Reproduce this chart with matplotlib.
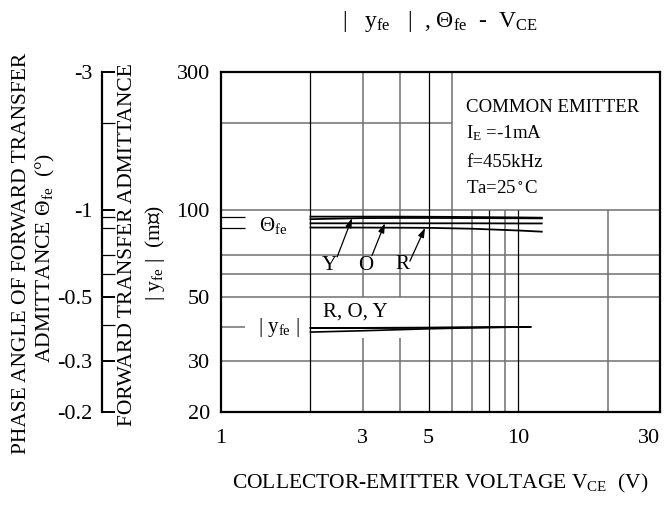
import numpy as np
import matplotlib
matplotlib.use("Agg")
import matplotlib.pyplot as plt
from matplotlib.ticker import FixedLocator, FixedFormatter, NullLocator

plt.rcParams['font.family'] = ['Liberation Serif', 'DejaVu Serif', 'DejaVu Sans']
plt.rcParams['mathtext.fontset'] = 'custom'
plt.rcParams['mathtext.rm'] = 'Liberation Serif'
plt.rcParams['mathtext.it'] = 'Liberation Serif:italic'

# --- values ---
vce_theta = [2, 3, 4, 5, 7, 10, 12]
theta_top = [-0.948, -0.948, -0.948, -0.947, -0.945, -0.942, -0.940]
theta_Y = [-0.929, -0.937, -0.938, -0.938, -0.937, -0.936, -0.935]
theta_O = [-0.899, -0.899, -0.899, -0.899, -0.899, -0.898, -0.898]
theta_R = [-0.869, -0.869, -0.868, -0.867, -0.861, -0.849, -0.841]

vce_yfe = [2, 3, 5, 7, 11]
yfe_R = [39.1, 39.1, 39.2, 39.3, 39.4]
yfe_O = [39.0, 39.0, 39.1, 39.2, 39.4]
yfe_Y = [37.8, 38.2, 38.8, 39.1, 39.4]

x_ticks = [1, 3, 5, 10, 30]
x_tick_labels = ['1', '3', '5', '10', '30']
y_ticks = [20, 30, 50, 100, 300]
y_tick_labels = ['20', '30', '50', '100', '300']
theta_ticks = [3, 1, 0.5, 0.3, 0.2]
theta_tick_labels = ['-3', '-1', '-0.5', '-0.3', '-0.2']

GRAY = '#707070'
FS = 15

fig = plt.figure(figsize=(6.68, 5.07), dpi=100)
ax = fig.add_axes([221 / 668, 95 / 507, 439 / 668, 340 / 507])
ax.set_xscale('log')
ax.set_yscale('log')
ax.set_xlim(1, 30)
ax.set_ylim(20, 300)

# grid (drawn by hand, the chart has broken / partial lines)
ax.hlines(200, 1, 6, color=GRAY, lw=1.1)
for v in [100, 70, 60, 50, 30]:
    ax.hlines(v, 1, 30, color=GRAY, lw=1.1)
ax.vlines(2, 20, 300, color='k', lw=0.9)
ax.vlines(5, 20, 300, color='k', lw=0.9)
ax.vlines(6, 20, 300, color=GRAY, lw=1.1)
for v in [3, 4]:
    ax.vlines(v, 20, 36, color=GRAY, lw=1.1)
    ax.vlines(v, 50, 300, color=GRAY, lw=1.1)
for v in [7, 9, 20]:
    ax.vlines(v, 20, 100, color=GRAY, lw=1.1)
for v in [8, 10]:
    ax.vlines(v, 20, 100, color='k', lw=0.9)

# |yfe| curves
for ys in [yfe_R, yfe_O, yfe_Y]:
    ax.plot(vce_yfe, ys, color='k', lw=1.2)
ax.hlines(39.5, 1, 1.205, color=GRAY, lw=1.1)

# phase angle curves on a matching log scale
ax_t = ax.twinx()
ax_t.set_yscale('log')
ax_t.set_ylim(0.2, 3)
ax_t.axis('off')
for th in [theta_top, theta_Y, theta_O, theta_R]:
    ax_t.plot(vce_theta, np.abs(th), color='k', lw=1.3)
band = [abs(theta_top[0]), abs(theta_R[0])]
ax_t.hlines(band, 1, 1.205, color='k', lw=0.9)

arrow = dict(arrowstyle='-|>,head_length=0.55,head_width=0.18', color='k',
             lw=0.9, shrinkA=0, shrinkB=0)
ax_t.annotate('', xy=(2.76, 0.937), xytext=(2.46, 68.8),
              textcoords=ax.transData, arrowprops=arrow)
ax_t.annotate('', xy=(3.56, 0.899), xytext=(3.22, 69.5),
              textcoords=ax.transData, arrowprops=arrow)
ax_t.annotate('', xy=(4.86, 0.867), xytext=(4.32, 66.5),
              textcoords=ax.transData, arrowprops=arrow)

ax.text(2.31, 64.0, 'Y', fontsize=FS, ha='center', va='center')
ax.text(3.07, 64.0, 'O', fontsize=FS, ha='center', va='center')
ax.text(4.06, 65.0, 'R', fontsize=FS, ha='center', va='center')
ax.text(2.84, 44.5, 'R, O, Y', fontsize=FS, ha='center', va='center')
ax.text(1.50, 88.5, r'$\mathregular{\Theta_{fe}}$', fontsize=FS, ha='center', va='center')
ax.text(1.57, 39.3, r'| $\mathregular{y_{fe}}$ |', fontsize=FS, ha='center', va='center')

# conditions box
cond = ['COMMON EMITTER', r'$\mathregular{I_E}$ =-1mA', 'f=455kHz', 'Ta=25$\mathregular{^\circ}$C']
for s, yy in zip(cond, [0.897, 0.821, 0.735, 0.656]):
    ax.text(0.558, yy, s, transform=ax.transAxes, fontsize=13.6, va='center', ha='left')

ax.xaxis.set_major_locator(FixedLocator(x_ticks))
ax.xaxis.set_major_formatter(FixedFormatter(x_tick_labels))
ax.xaxis.set_minor_locator(NullLocator())
ax.yaxis.set_major_locator(FixedLocator(y_ticks))
ax.yaxis.set_major_formatter(FixedFormatter(y_tick_labels))
ax.yaxis.set_minor_locator(NullLocator())
ax.tick_params(axis='both', length=0, labelsize=16)
ax.tick_params(axis='x', pad=12)
ax.tick_params(axis='y', pad=8)
for sp in ax.spines.values():
    sp.set_linewidth(1.6)
fig.canvas.draw()
ax.get_xticklabels()[-1].set_horizontalalignment('right')
ax.get_xticklabels()[-1].set_x(30)

# outer phase angle scale
ax_l = fig.add_axes([102 / 668, 95 / 507, 0.02, 340 / 507])
ax_l.set_yscale('log')
ax_l.set_ylim(0.2, 3)
ax_l.patch.set_visible(False)
for k in ['top', 'right', 'bottom']:
    ax_l.spines[k].set_visible(False)
ax_l.spines['left'].set_linewidth(1.6)
ax_l.set_xticks([])
ax_l.yaxis.set_major_locator(FixedLocator(theta_ticks))
ax_l.yaxis.set_major_formatter(FixedFormatter(theta_tick_labels))
ax_l.yaxis.set_minor_locator(FixedLocator([2] + band + [0.7, 0.6, 0.4]))
ax_l.yaxis.set_minor_formatter(FixedFormatter([]))
ax_l.tick_params(axis='y', which='both', direction='in', length=9.5, labelsize=16, pad=7)
ax_l.tick_params(axis='y', which='major', width=1.4)
ax_l.tick_params(axis='y', which='minor', width=0.9)

# titles and axis labels
LS = 15.5
fig.text(440 / 668, 1 - 22 / 507,
         r'|   $\mathregular{y_{fe}}$   |  , $\mathregular{\Theta_{fe}}$  -  $\mathregular{V_{CE}}$',
         fontsize=17, ha='center', va='center')
fig.text(440 / 668, 1 - 483 / 507,
         r'COLLECTOR-EMITTER VOLTAGE $\mathregular{V_{CE}}$  (V)',
         fontsize=LS, ha='center', va='center')
fig.text(22 / 668, 1 - 253 / 507, 'PHASE ANGLE OF FORWARD TRANSFER',
         fontsize=LS, rotation=90, ha='center', va='center')
fig.text(45 / 668, 1 - 258 / 507, r'ADMITTANCE $\mathregular{\Theta_{fe}}$  (°)',
         fontsize=LS, rotation=90, ha='center', va='center')
fig.text(127 / 668, 1 - 245 / 507, 'FORWARD TRANSFER ADMITTANCE',
         fontsize=LS, rotation=90, ha='center', va='center')
fig.text(155 / 668, 1 - 253 / 507, r'| $\mathregular{y_{fe}}$ |  (m℧)',
         fontsize=LS, rotation=90, ha='center', va='center')

fig.savefig('out.png', dpi=100)
